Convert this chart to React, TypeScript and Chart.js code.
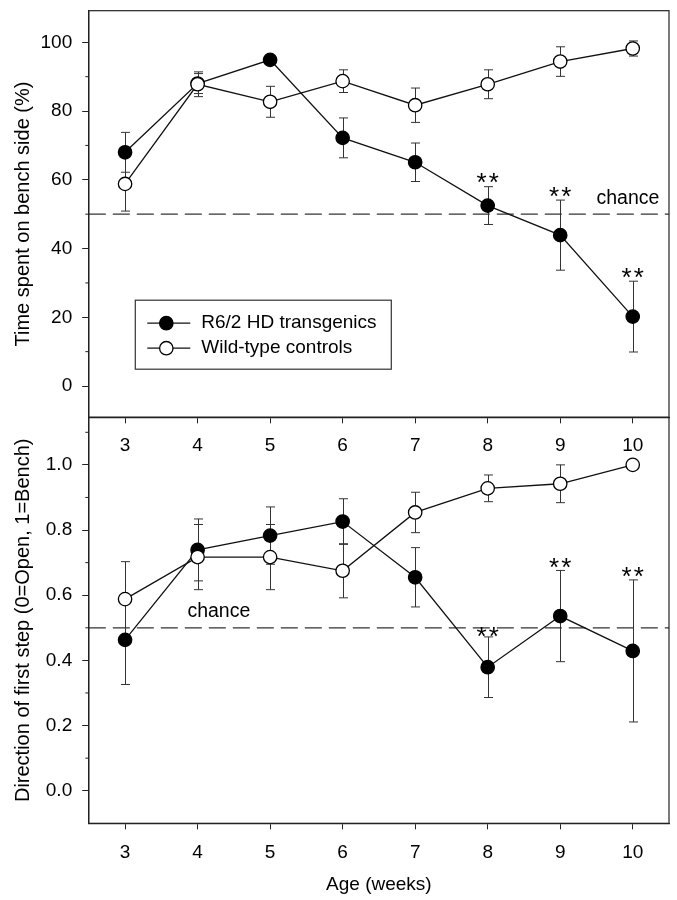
import React, { useEffect, useRef } from 'react';
import { Chart, registerables } from 'chart.js';

Chart.register(...registerables);

// ---------------- data ----------------
const weeks = [3, 4, 5, 6, 7, 8, 9, 10];
const seriesNames = ['R6/2 HD transgenics', 'Wild-type controls'];

// top panel: time spent on bench side (%)
const benchR62 = [68, 88, 94.9, 72.2, 65.1, 52.5, 43.9, 20.2];
const benchR62Err = [5.8, 2.9, 1.2, 5.8, 5.6, 5.5, 10.2, 10.3];
const benchWT = [58.8, 87.8, 82.7, 88.7, 81.7, 87.8, 94.4, 98.2];
const benchWTErr = [7.9, 3.6, 4.5, 3.3, 5.0, 4.2, 4.3, 2.2];
const benchMajorTicks = [0, 20, 40, 60, 80, 100];
const benchMinorTicks = [10, 30, 50, 70, 90];
const benchSigWeeks = [8, 9, 10];
const benchChance = 50;

// bottom panel: direction of first step
const stepR62 = [0.463, 0.739, 0.783, 0.826, 0.655, 0.379, 0.536, 0.429];
const stepR62Err = [0.137, 0.095, 0.088, 0.07, 0.091, 0.093, 0.14, 0.218];
const stepWT = [0.588, 0.717, 0.717, 0.675, 0.854, 0.928, 0.942, 1.0];
const stepWTErr = [0.115, 0.1, 0.1, 0.083, 0.062, 0.041, 0.058, 0];
const stepMajorTicks = [0, 0.2, 0.4, 0.6, 0.8, 1.0];
const stepMinorTicks = [0.1, 0.3, 0.5, 0.7, 0.9, 1.1];
const stepSigWeeks = [8, 9, 10];
const stepChance = 0.5;

const chanceText = 'chance';
const sigText = '**';
const topYTitle = 'Time spent on bench side (%)';
const bottomYTitle = 'Direction of first step (0=Open, 1=Bench)';
const xTitle = 'Age (weeks)';

// ---------------- styling ----------------
const FONT = '"Liberation Sans", Arial, Helvetica, sans-serif';
const INK = '#000';
const AXIS = '#222';

type Panel = {
  r62: number[]; r62Err: number[]; wt: number[]; wtErr: number[];
  yMin: number; yMax: number; major: number[]; minor: number[]; decimals: number;
  chance: number; chanceX: number; sig: number[]; sigGap: number[];
  yTitle: string; xTitle?: string;
  padTop: number; xAxisHeight: number; xLabelPad: number; legend: boolean;
};

const topPanel: Panel = {
  r62: benchR62, r62Err: benchR62Err, wt: benchWT, wtErr: benchWTErr,
  yMin: -9.1, yMax: 109.2, major: benchMajorTicks, minor: benchMinorTicks, decimals: 0,
  chance: benchChance, chanceX: 9.5, sig: benchSigWeeks, sigGap: [10, 9.5, 9.5],
  yTitle: topYTitle, padTop: 10.7, xAxisHeight: 900 - 417.3, xLabelPad: 11, legend: true,
};

const bottomPanel: Panel = {
  r62: stepR62, r62Err: stepR62Err, wt: stepWT, wtErr: stepWTErr,
  yMin: -0.1, yMax: 1.146, major: stepMajorTicks, minor: stepMinorTicks, decimals: 1,
  chance: stepChance, chanceX: 3.86, sig: stepSigWeeks, sigGap: [7, 9.5, 9.5],
  yTitle: bottomYTitle, xTitle, padTop: 417.3, xAxisHeight: 900 - 823.3, xLabelPad: 12, legend: false,
};

function decorPlugin(p: Panel) {
  return {
    id: 'decor',
    beforeDatasetsDraw(chart: any) {
      const { ctx } = chart;
      const x = chart.scales.x;
      const y = chart.scales.y;
      ctx.save();
      ctx.strokeStyle = '#333';
      ctx.lineWidth = 1;
      const pairs: [number[], number[]][] = [[p.r62, p.r62Err], [p.wt, p.wtErr]];
      for (const [vals, errs] of pairs) {
        weeks.forEach((w, i) => {
          const e = errs[i];
          if (!e) return;
          const px = Math.round(x.getPixelForValue(w)) + 0.5;
          const t = y.getPixelForValue(vals[i] + e);
          const b = y.getPixelForValue(vals[i] - e);
          ctx.beginPath();
          ctx.moveTo(px, t); ctx.lineTo(px, b);
          ctx.moveTo(px - 4.5, t); ctx.lineTo(px + 4.5, t);
          ctx.moveTo(px - 4.5, b); ctx.lineTo(px + 4.5, b);
          ctx.stroke();
        });
      }
      ctx.restore();
    },
    afterDraw(chart: any) {
      const { ctx, chartArea: a } = chart;
      const x = chart.scales.x;
      const y = chart.scales.y;
      ctx.save();
      // frame
      ctx.strokeStyle = AXIS;
      ctx.lineWidth = 1.2;
      ctx.strokeRect(a.left, a.top, a.right - a.left, a.bottom - a.top);
      // minor ticks
      ctx.lineWidth = 1;
      p.minor.forEach((v) => {
        const py = y.getPixelForValue(v);
        if (py < a.top - 0.5 || py > a.bottom + 0.5) return;
        ctx.beginPath();
        ctx.moveTo(a.left - 3.5, py);
        ctx.lineTo(a.left, py);
        ctx.stroke();
      });
      // significance stars
      ctx.fillStyle = INK;
      ctx.font = `26px ${FONT}`;
      ctx.textAlign = 'center';
      ctx.textBaseline = 'alphabetic';
      (ctx as any).letterSpacing = '2px';
      p.sig.forEach((w, k) => {
        const i = weeks.indexOf(w);
        const cap = y.getPixelForValue(p.r62[i] + p.r62Err[i]);
        ctx.fillText(sigText, x.getPixelForValue(w) + 1, cap - p.sigGap[k] + 14.8);
      });
      (ctx as any).letterSpacing = '0px';
      // chance label
      ctx.font = `19.5px ${FONT}`;
      ctx.textAlign = 'left';
      ctx.textBaseline = 'middle';
      ctx.fillText(chanceText, x.getPixelForValue(p.chanceX), y.getPixelForValue(p.chance) - 16);
      // legend
      if (p.legend) {
        const lx = a.left + 46.5;
        const ly = a.top + 289.5;
        ctx.strokeStyle = '#333';
        ctx.lineWidth = 1.2;
        ctx.strokeRect(lx, ly, 256, 69);
        const ds = chart.data.datasets;
        const items = [ds[1], ds[0]];
        items.forEach((d: any, k: number) => {
          const ry = ly + 23 + k * 25;
          ctx.strokeStyle = '#111';
          ctx.lineWidth = 1.3;
          ctx.beginPath();
          ctx.moveTo(lx + 12, ry);
          ctx.lineTo(lx + 55, ry);
          ctx.stroke();
          ctx.beginPath();
          ctx.arc(lx + 31, ry, 6.7, 0, Math.PI * 2);
          ctx.fillStyle = d.pointBackgroundColor;
          ctx.fill();
          ctx.strokeStyle = '#000';
          ctx.stroke();
          ctx.fillStyle = INK;
          ctx.font = `19px ${FONT}`;
          ctx.textAlign = 'left';
          ctx.textBaseline = 'middle';
          ctx.fillText(d.label, lx + 66, ry);
        });
      }
      ctx.restore();
    },
  };
}

function buildChart(canvas: HTMLCanvasElement, p: Panel) {
  const toPts = (vals: number[]) => weeks.map((w, i) => ({ x: w, y: vals[i] }));
  return new Chart(canvas, {
    type: 'line',
    data: {
      datasets: [
        {
          label: seriesNames[1], data: toPts(p.wt), order: 0,
          borderColor: '#111', borderWidth: 1.3, tension: 0,
          pointRadius: 6.7, pointBackgroundColor: '#fff', pointBorderColor: '#000', pointBorderWidth: 1.3,
        },
        {
          label: seriesNames[0], data: toPts(p.r62), order: 1,
          borderColor: '#111', borderWidth: 1.3, tension: 0,
          pointRadius: 6.7, pointBackgroundColor: '#000', pointBorderColor: '#000', pointBorderWidth: 1.3,
        },
        {
          label: chanceText, data: [{ x: 2.5, y: p.chance }, { x: 10.5, y: p.chance }], order: 2,
          borderColor: '#333', borderWidth: 1.3, borderDash: [17, 7], pointRadius: 0,
        },
      ] as any,
    },
    options: {
      responsive: false,
      animation: false,
      events: [],
      layout: { padding: { top: p.padTop, right: 7, left: 0, bottom: 0 } },
      plugins: { legend: { display: false }, tooltip: { enabled: false } },
      scales: {
        x: {
          type: 'linear', min: 2.5, max: 10.5,
          afterBuildTicks: (s: any) => { s.ticks = weeks.map((v) => ({ value: v })); },
          afterFit: (s: any) => { s.height = p.xAxisHeight; s.paddingLeft = 0; s.paddingRight = 0; },
          grid: { drawOnChartArea: false, drawTicks: true, tickLength: 6, color: AXIS, lineWidth: 1 },
          border: { display: true, color: AXIS, width: 1.2 },
          ticks: {
            padding: p.xLabelPad, color: INK, font: { size: 19, family: FONT },
            maxRotation: 0, autoSkip: false, callback: (v: any) => String(v),
          },
          title: {
            display: !!p.xTitle, text: p.xTitle || '', color: INK,
            font: { size: 19, family: FONT }, padding: { top: 0, bottom: 3.6 },
          },
        },
        y: {
          type: 'linear', min: p.yMin, max: p.yMax,
          afterBuildTicks: (s: any) => { s.ticks = p.major.map((v) => ({ value: v })); },
          afterFit: (s: any) => { s.width = 88.8; s.paddingTop = 0; s.paddingBottom = 0; },
          grid: { drawOnChartArea: false, drawTicks: true, tickLength: 6.6, color: AXIS, lineWidth: 1 },
          border: { display: true, color: AXIS, width: 1.2 },
          ticks: {
            padding: 10, color: INK, font: { size: 19, family: FONT },
            callback: (v: any) => Number(v).toFixed(p.decimals),
          },
          title: {
            display: true, text: p.yTitle, color: INK,
            font: { size: 20, family: FONT }, padding: { top: 11, bottom: 0 },
          },
        },
      },
    } as any,
    plugins: [decorPlugin(p)],
  });
}

export default function App() {
  const topRef = useRef<HTMLCanvasElement>(null);
  const botRef = useRef<HTMLCanvasElement>(null);
  useEffect(() => {
    const bottom = buildChart(botRef.current!, bottomPanel);
    const top = buildChart(topRef.current!, topPanel);
    return () => { top.destroy(); bottom.destroy(); };
  }, []);
  const cs: React.CSSProperties = { position: 'absolute', left: 0, top: 0 };
  return (
    <div style={{ position: 'absolute', left: 0, top: 0, width: 677, height: 900, background: '#fff' }}>
      <canvas ref={botRef} width={677} height={900} style={cs} />
      <canvas ref={topRef} width={677} height={900} style={cs} />
    </div>
  );
}
